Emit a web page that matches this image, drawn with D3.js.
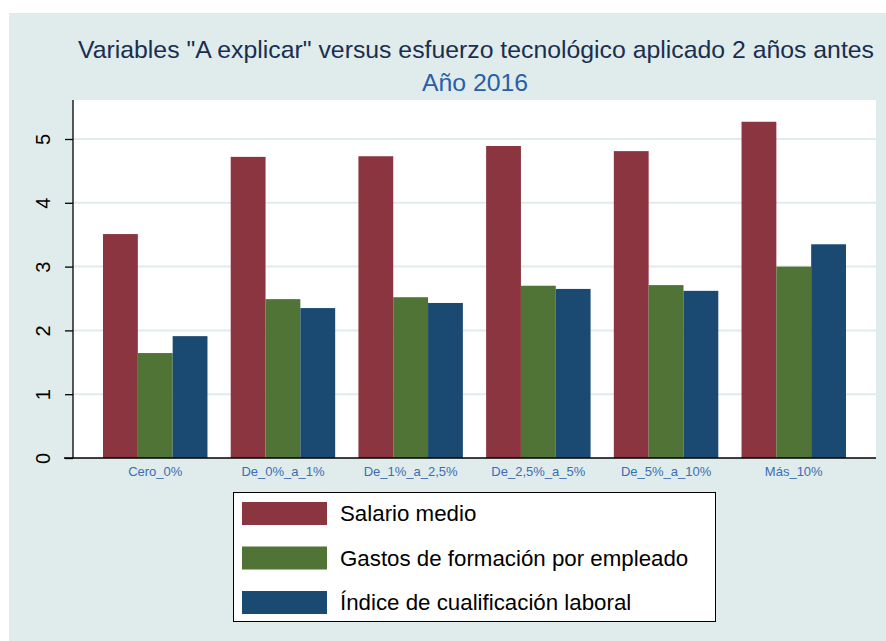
<!DOCTYPE html>
<html>
<head>
<meta charset="utf-8">
<script src="https://cdn.jsdelivr.net/npm/d3@7"></script>
<style>
html,body{margin:0;padding:0;background:#fff;}
svg{display:block;font-family:"Liberation Sans",Arial,sans-serif;}
</style>
</head>
<body>
<svg id="chart" width="886" height="641"></svg>
<script>
const categories = ["Cero_0%","De_0%_a_1%","De_1%_a_2,5%","De_2,5%_a_5%","De_5%_a_10%","Más_10%"];
const seriesNames = ["Salario medio","Gastos de formación por empleado","Índice de cualificación laboral"];
const salario = [3.51, 4.72, 4.73, 4.89, 4.81, 5.27];
const gastos = [1.645, 2.49, 2.52, 2.70, 2.71, 3.00];
const indice = [1.91, 2.35, 2.43, 2.65, 2.62, 3.35];
const yTicks = [0,1,2,3,4,5];
const colors = ["#8a3540","#4f7435","#1a4a72"];
const title = 'Variables "A explicar" versus esfuerzo tecnológico aplicado 2 años antes';
const subtitle = "Año 2016";

const seriesValues = [salario, gastos, indice];
const svg = d3.select("#chart");

svg.append("rect").attr("x",9).attr("y",13).attr("width",877).attr("height",628).attr("fill","#dfeceb");

const plot = {left:73, right:876, top:100, bottom:458};
svg.append("rect").attr("x",plot.left).attr("y",plot.top).attr("width",plot.right-plot.left).attr("height",plot.bottom-plot.top).attr("fill","#fff");

const y = d3.scaleLinear().domain([0,5]).range([plot.bottom,139]);
const x0 = d3.scaleBand().domain(categories).range([plot.left,plot.right]).paddingInner(0.182).paddingOuter(0.235);
const x1 = d3.scaleBand().domain(seriesNames).range([0,x0.bandwidth()]);

// gridlines
svg.append("g").selectAll("line").data(yTicks.filter(d=>d>0)).join("line")
  .attr("x1",plot.left).attr("x2",plot.right)
  .attr("y1",d=>y(d)).attr("y2",d=>y(d))
  .attr("stroke","#dfeceb").attr("stroke-width",2);

// bars
const g = svg.append("g");
categories.forEach((c,i)=>{
  seriesNames.forEach((s,j)=>{
    const v = seriesValues[j][i];
    g.append("rect")
      .attr("x",x0(c)+x1(s)).attr("width",x1.bandwidth())
      .attr("y",y(v)).attr("height",y(0)-y(v))
      .attr("fill",colors[j]);
  });
});

// y axis
const yAxis = d3.axisLeft(y).tickValues(yTicks).tickFormat(d3.format("d")).tickSize(8).tickPadding(0);
const ya = svg.append("g").attr("transform",`translate(${plot.left},0)`).call(yAxis);
ya.select(".domain").attr("d",`M0,${plot.top}V${plot.bottom}`).attr("stroke","#000").attr("stroke-width",1.3);
ya.selectAll(".tick line").attr("stroke","#000").attr("stroke-width",1.3);
ya.selectAll(".tick text").attr("x",0).attr("dy",null)
  .attr("transform","translate(-30,0) rotate(-90)")
  .attr("text-anchor","middle").attr("dominant-baseline","central")
  .attr("font-size",20).attr("fill","#000");

// x axis line
svg.append("line").attr("x1",64).attr("x2",plot.right).attr("y1",plot.bottom).attr("y2",plot.bottom).attr("stroke","#000").attr("stroke-width",1.3);
const xAxis = d3.axisBottom(x0).tickSize(0).tickPadding(0);
const xa = svg.append("g").attr("transform",`translate(0,${plot.bottom})`).call(xAxis);
xa.select(".domain").remove();
xa.selectAll(".tick text").attr("y",18).attr("dy",null).attr("font-size",13).attr("fill","#3a6db5").attr("font-family","Liberation Sans, Arial, sans-serif");

// titles
svg.append("text").attr("x",476).attr("y",58).attr("text-anchor","middle").attr("font-size",24.8).attr("fill","#1a2e4f").text(title);
svg.append("text").attr("x",475).attr("y",91).attr("text-anchor","middle").attr("font-size",24.8).attr("fill","#2a5ea8").text(subtitle);

// legend
const lg = svg.append("g");
lg.append("rect").attr("x",233.5).attr("y",492.5).attr("width",482).attr("height",129).attr("fill","#fff").attr("stroke","#000").attr("stroke-width",1);
seriesNames.forEach((s,j)=>{
  const yy = 502 + j*44.5;
  lg.append("rect").attr("x",242).attr("y",yy).attr("width",85).attr("height",23).attr("fill",colors[j]);
  lg.append("text").attr("x",340).attr("y",yy+19).attr("font-size",22.3).attr("fill","#000").text(s);
});
</script>
</body>
</html>
